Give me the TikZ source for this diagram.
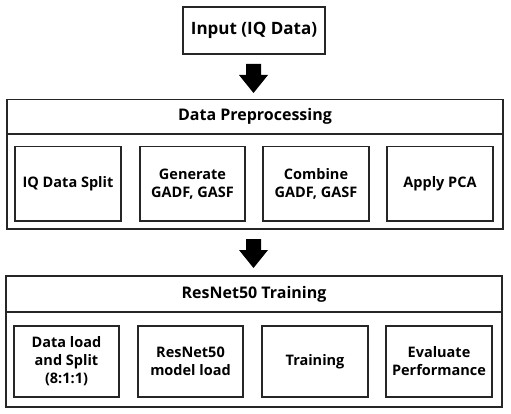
\documentclass[tikz,border=0pt]{standalone}
\usepackage{fontspec}
\setmainfont{Open Sans}
\begin{document}
\begin{tikzpicture}[x=1pt,y=1pt,
  box/.style={draw=black!85,line width=1.6pt,rectangle,inner sep=0pt,align=center,font=\bfseries\fontsize{14.5}{18}\selectfont},
  ttl/.style={font=\bfseries\fontsize{16}{18}\selectfont,inner sep=0pt},
  blockarrow/.pic={\fill[black] (-7.5,0) -- (-7.5,-11) -- (-14.5,-11) -- (0,-29) -- (14.5,-11) -- (7.5,-11) -- (7.5,0) -- cycle;}
]
\useasboundingbox (0,0) rectangle (511,413);
% input
\node[box,font=\bfseries\fontsize{17}{19}\selectfont,minimum width=142pt,minimum height=47pt] (inp) at (254,382.5) {Input (IQ Data)};
\coordinate (a1) at (253.5,349);
\pic at (a1) {blockarrow};
% preprocessing
\node[box,minimum width=496pt,minimum height=129.5pt] (pre) at (255,248.75) {};
\draw[draw=black!85,line width=1.6pt] (pre.west |- 0,279) coordinate (pdl) -- (pre.east |- 0,279) coordinate (pdr);
\node[ttl] (pret) at (255,296.25) {Data Preprocessing};
\node[box,minimum width=106pt,minimum height=74.5pt] (p1) at (68,229.25) {IQ Data Split};
\node[box,minimum width=105pt,minimum height=74.5pt] (p2) at (192.5,229.25) {Generate\\GADF, GASF};
\node[box,minimum width=106pt,minimum height=74.5pt] (p3) at (316,229.25) {Combine\\GADF, GASF};
\node[box,minimum width=106pt,minimum height=74.5pt] (p4) at (440,229.25) {Apply PCA};
\coordinate (a2) at (253.5,174);
\pic at (a2) {blockarrow};
% resnet
\node[box,minimum width=496pt,minimum height=131pt] (res) at (254,71.5) {};
\draw[draw=black!85,line width=1.6pt] (res.west |- 0,101) coordinate (rdl) -- (res.east |- 0,101) coordinate (rdr);
\node[ttl] (rest) at (254,119) {ResNet50 Training};
\node[box,minimum width=105pt,minimum height=71pt] (r1) at (66.5,51.5) {Data load\\and Split\\(8:1:1)};
\node[box,minimum width=105pt,minimum height=71pt] (r2) at (190.5,51.5) {ResNet50\\model load};
\node[box,minimum width=106pt,minimum height=71pt] (r3) at (315,51.5) {Training};
\node[box,minimum width=106pt,minimum height=71pt] (r4) at (439,51.5) {Evaluate\\Performance};
\end{tikzpicture}
\end{document}
